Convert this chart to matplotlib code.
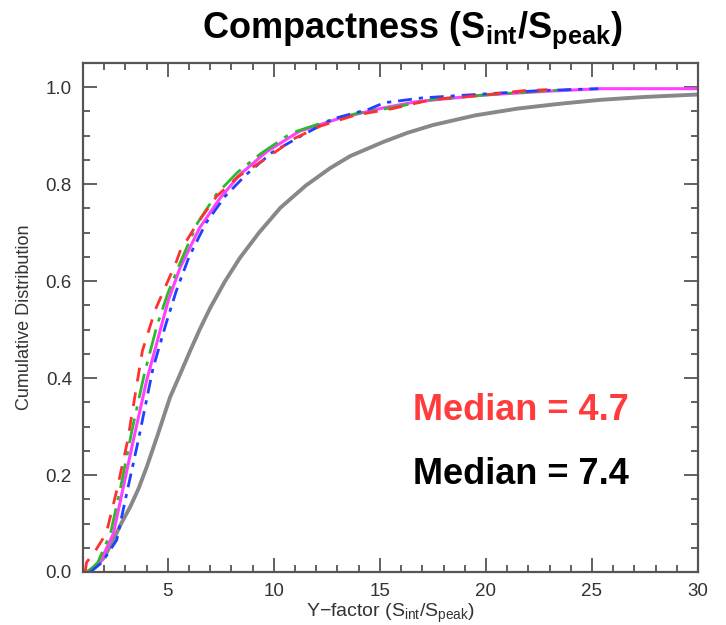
import matplotlib
matplotlib.use("Agg")
import matplotlib.pyplot as plt
from matplotlib.ticker import MultipleLocator

plt.rcParams['font.family'] = ['Liberation Sans', 'DejaVu Sans']
plt.rcParams['mathtext.fontset'] = 'custom'
plt.rcParams['mathtext.rm'] = 'Liberation Sans'
plt.rcParams['mathtext.it'] = 'Liberation Sans'
plt.rcParams['mathtext.bf'] = 'Liberation Sans:bold'

# comparison sample (grey)
grey_x = [1.2, 1.6, 2.0, 2.43, 2.8, 3.22, 3.6, 4.0, 4.5, 5.1, 5.5, 6.05, 6.5, 7.0, 7.7, 8.4, 9.3, 10.3,
          11.5, 12.65, 13.6, 15.15, 16.3, 17.5, 19.5, 21.5, 23.5, 25.4, 27.5, 30.0]
grey_y = [0.0, 0.012, 0.03, 0.066, 0.10, 0.134, 0.17, 0.216, 0.28, 0.36, 0.40, 0.456, 0.50, 0.545, 0.60, 0.648, 0.70, 0.751,
          0.797, 0.833, 0.858, 0.887, 0.906, 0.922, 0.942, 0.956, 0.966, 0.974, 0.980, 0.985]

# magenta (solid)
mag_x = [1.33, 1.8, 2.43, 2.9, 3.37, 4.0, 4.63, 5.02, 5.58, 6.5, 7.46, 8.4, 9.66, 11.2, 13.1, 15.0, 16.7, 19.9, 23.0, 25.4, 30.0]
mag_y = [0.0, 0.02, 0.079, 0.175, 0.271, 0.395, 0.497, 0.56, 0.628, 0.71, 0.771, 0.82, 0.867, 0.909, 0.936, 0.956, 0.970, 0.984, 0.992, 0.997, 0.997]

# red (dashed)
red_x = [1.1, 1.17, 1.6, 2.1, 2.6, 3.1, 3.8, 4.4, 5.0, 5.4, 5.58, 6.4, 7.3, 8.3, 9.66, 11.0, 12.2, 13.8, 15.6, 17.5, 19.5, 21.8, 22.9]
red_y = [0.0, 0.02, 0.045, 0.08, 0.17, 0.27, 0.456, 0.54, 0.60, 0.64, 0.662, 0.72, 0.775, 0.815, 0.854, 0.895, 0.92, 0.942, 0.956, 0.975, 0.982, 0.993, 0.995]

# green (long dash-dot)
grn_x = [1.25, 1.7, 2.3, 2.8, 3.3, 3.9, 4.5, 5.0, 5.6, 6.4, 7.3, 8.3, 9.35, 10.8, 12.5, 14.0, 15.6, 17.5, 20.0, 22.5, 24.0]
grn_y = [0.0, 0.02, 0.08, 0.18, 0.29, 0.41, 0.51, 0.575, 0.64, 0.72, 0.78, 0.825, 0.862, 0.905, 0.93, 0.947, 0.958, 0.975, 0.984, 0.992, 0.995]

# blue (dash-dot)
blu_x = [1.35, 1.9, 2.59, 3.1, 3.6, 4.3, 4.9, 5.4, 6.0, 6.8, 7.7, 8.7, 9.9, 11.3, 12.8, 14.5, 15.2, 17.0, 19.5, 22.5, 25.3]
blu_y = [0.0, 0.02, 0.066, 0.17, 0.27, 0.42, 0.51, 0.58, 0.65, 0.72, 0.775, 0.82, 0.865, 0.9, 0.935, 0.955, 0.968, 0.978, 0.985, 0.993, 0.997]

fig = plt.figure(figsize=(7.26, 6.25), dpi=100)
ax = fig.add_axes([83/726, 1-572/625, (698-83)/726, (572-63)/625])

ax.plot(grey_x, grey_y, color='#888888', lw=2.8, solid_capstyle='round')
ax.plot(mag_x, mag_y, color='#ff40ff', lw=2.2)
ax.plot(grn_x, grn_y, color='#2eb82e', lw=2.0, dashes=(9, 3, 1.5, 3))
ax.plot(blu_x, blu_y, color='#2040ff', lw=2.0, dashes=(5, 2.5, 1.5, 2.5))
ax.plot(red_x, red_y, color='#ff3030', lw=2.0, dashes=(5, 4))

ax.set_xlim(1, 30)
ax.set_ylim(0, 1.05)
ax.xaxis.set_major_locator(MultipleLocator(5))
ax.xaxis.set_minor_locator(MultipleLocator(1))
ax.yaxis.set_minor_locator(MultipleLocator(0.05))
ax.set_yticks([0.0, 0.2, 0.4, 0.6, 0.8, 1.0])
ax.set_yticklabels(['0.0', '0.2', '0.4', '0.6', '0.8', '1.0'])
ax.tick_params(which='both', direction='in', top=True, right=True, color='#555555',
               labelcolor='#333333', labelsize=13.5, width=1.3)
ax.tick_params(which='major', length=10, pad=8)
ax.tick_params(which='minor', length=5)
for s in ax.spines.values():
    s.set_color('#555555')
    s.set_linewidth(1.6)

ax.set_xlabel(r'Y$-$factor (S$_{int}$/S$_{peak}$)', fontsize=14, color='#333333', labelpad=1)
ax.set_ylabel('Cumulative Distribution', fontsize=13, color='#333333', labelpad=9)

fig.text(412/726, 1-30/625, r'$\mathbf{Compactness\ (S_{int}/S_{peak})}$', fontsize=26,
         ha='center', va='center', color='black')
fig.text(413/726, 1-410/625, 'Median = 4.7', fontsize=26, fontweight='bold',
         color='#ff3b3b', ha='left', va='center')
fig.text(413/726, 1-475/625, 'Median = 7.4', fontsize=26, fontweight='bold',
         color='black', ha='left', va='center')

fig.savefig('out.png', dpi=100)
